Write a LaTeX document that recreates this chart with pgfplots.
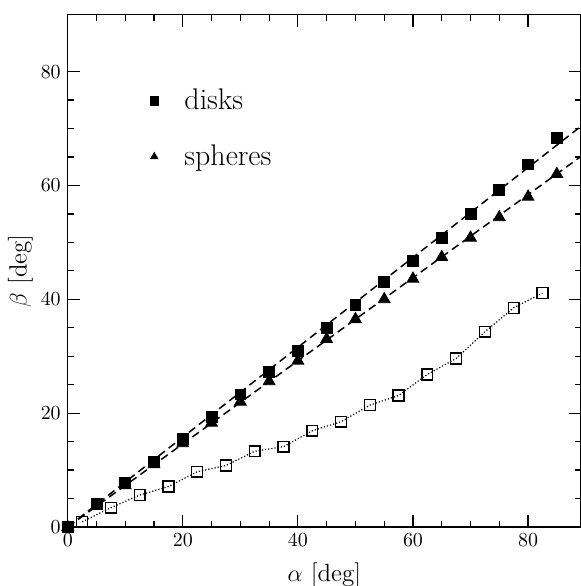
\documentclass[border=0pt]{standalone}
\usepackage{pgfplots}
\pgfplotsset{compat=1.18}

\pgfplotstableread{
x y
0 0
5 4.0
10 7.7
15 11.5
20 15.5
25 19.4
30 23.3
35 27.2
40 31.0
45 35.0
50 39.0
55 43.0
60 46.8
65 50.8
70 55.0
75 59.2
80 63.7
85 68.3
}\disks

\pgfplotstableread{
x y
0 0
5 3.7
10 7.3
15 11.0
20 14.7
25 18.3
30 22.0
35 25.6
40 29.2
45 33.0
50 36.5
55 40.0
60 43.6
65 47.4
70 50.8
75 54.4
80 58.0
85 62.0
}\spheres

\pgfplotstableread{
x y
2.5 0.9
7.5 3.4
12.5 5.6
17.5 7.1
22.5 9.7
27.5 10.8
32.5 13.3
37.5 14.1
42.5 16.9
47.5 18.5
52.5 21.4
57.5 23.1
62.5 26.8
67.5 29.6
72.5 34.3
77.5 38.5
82.5 41.1
}\open

\begin{document}
\begin{tikzpicture}
\begin{axis}[
    name=ax,
    scale only axis,
    width=256.5bp, height=256bp,
    xmin=0, xmax=89.2, ymin=0, ymax=90,
    xtick={0,20,...,80}, ytick={0,20,...,80},
    minor x tick num=3, minor y tick num=3,
    tick align=inside,
    major tick length=6bp, minor tick length=3bp,
    tick style={black, line width=0.6pt},
    axis line style={line width=0.7pt},
    ticklabel style={font=\fontsize{10}{12}\selectfont},
    label style={font=\fontsize{12.5}{14}\selectfont},
    xlabel={$\alpha$ [deg]},
    ylabel={$\beta$ [deg]},
    xlabel style={at={(axis description cs:0.5,-0.094)}, anchor=center},
    ylabel style={at={(axis description cs:-0.092,0.5)}, anchor=center},
    legend style={draw=none, fill=none, at={(axis cs:13.2,78.4)}, anchor=north west,
        font=\fontsize{15}{17}\selectfont, row sep=12bp,
        /tikz/every odd column/.append style={column sep=11bp}},
    legend image post style={mark size=2.1bp},
    legend cell align=left,
    clip=false,
]
\addplot[black, dash pattern=on 4bp off 2.4bp, line width=0.75pt, forget plot]
    coordinates {(0,0) (89.2,70.4)};
\addplot[black, dash pattern=on 4bp off 2.4bp, line width=0.75pt, forget plot]
    coordinates {(0,0) (89.2,65.1)};
\addplot[black, densely dotted, line width=0.6pt, mark=square, mark size=2.7bp,
    mark options={solid, line width=0.7pt}, forget plot]
    table[x=x, y=y] {\open};
\addplot[only marks, mark=square*, mark size=2.7bp, black] table[x=x, y=y] {\disks};
\addlegendentry{disks}
\addplot[only marks, mark=triangle*, mark size=3.4bp, black] table[x=x, y=y] {\spheres};
\addlegendentry{spheres}
\end{axis}
\pgfresetboundingbox
\path ([xshift=-33.85bp,yshift=-29.5bp]ax.south west) rectangle ([yshift=7.35bp]ax.north east);
\end{tikzpicture}
\end{document}
